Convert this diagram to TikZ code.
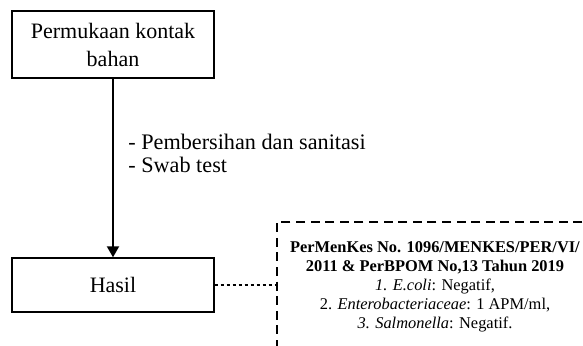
\documentclass[tikz,border=0pt]{standalone}
\usepackage{fontspec}
\setmainfont{Liberation Serif}
\usetikzlibrary{arrows.meta}
\begin{document}
\begin{tikzpicture}[x=0.5pt,y=-0.5pt]

% Define styles
\tikzstyle{stage}=[draw, line width=0.7pt, minimum width=101pt, align=center, inner sep=0pt, font=\fontsize{11}{14}\selectfont]
\tikzstyle{flow}=[line width=1pt, -{Triangle[length=5.5pt,width=6pt]}]
\tikzstyle{ref}=[draw, dash pattern=on 4.5pt off 2.8pt, line width=0.75pt, minimum width=158pt, minimum height=63pt, inner sep=0pt]
\tikzstyle{link}=[line width=0.75pt, dash pattern=on 1.5pt off 1.5pt]
\tikzstyle{label}=[font=\fontsize{11.1}{11.5}\selectfont, align=left, inner sep=0pt]
\tikzstyle{note}=[font=\fontsize{8.2}{9.5}\selectfont, align=center, inner sep=0pt]

\useasboundingbox (0,0) rectangle (583,345);

% Boxes
\node[stage, minimum height=33.5pt] (surface) at (113,44.5) {Permukaan kontak\\bahan};
\node[stage, minimum height=27pt] (result) at (113,285) {Hasil};

% Arrow and the steps beside it
\draw[flow] (surface) -- (result);
\node[label, anchor=west] (steps) at (128,153) {- Pembersihan dan sanitasi\\- Swab test};

% Standard box (cut by the page edge)
\node[ref] (standard) at (435,285) {};
\node[note, anchor=north] (limits) at (435,241) {\textbf{PerMenKes No. 1096/MENKES/PER/VI/}\\
  \textbf{2011 \& PerBPOM No,13 Tahun 2019}\\
  \textit{1. E.coli}: Negatif,\\
  2. \textit{Enterobacteriaceae}: 1 APM/ml,\\
  \textit{3. Salmonella}: Negatif.};
\draw[link] (result) -- (standard);

\end{tikzpicture}
\end{document}
